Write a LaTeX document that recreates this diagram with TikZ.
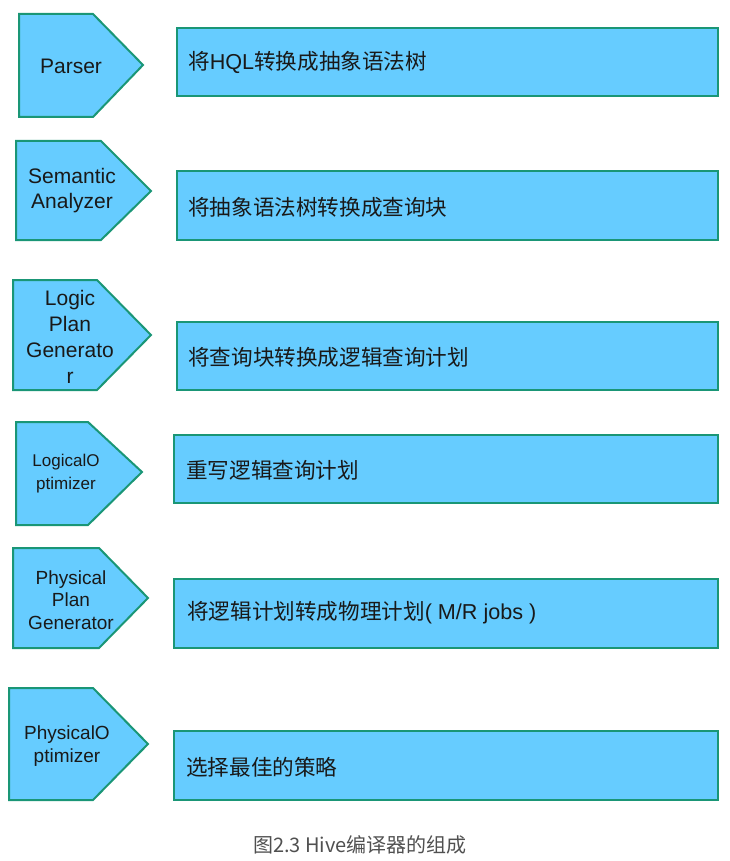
\documentclass[tikz,border=0pt]{standalone}
\usepackage{fontspec}
\setmainfont{Liberation Sans}
\newfontfamily\cjk{Noto Sans CJK SC}
\usepackage{tikz}
\usetikzlibrary{positioning}
\definecolor{stagefill}{RGB}{102,204,255}
\definecolor{stageline}{RGB}{26,150,118}
\definecolor{captiongray}{RGB}{80,80,80}
\newcommand{\zh}[1]{{\cjk #1}}
\tikzstyle{stage} = [draw=stageline, line width=2pt, fill=stagefill]
\tikzstyle{stagename} = [align=center, inner sep=0pt, text=black!90]
\tikzstyle{task} = [anchor=west, inner sep=0pt, text=black!90, font=\fontsize{21.6}{25}\selectfont]

\begin{document}
\begin{tikzpicture}[x=1pt, y=-1pt]
		\useasboundingbox (0,0) rectangle (729,861);
		
		% Parser
		\draw[stage] (19,14) -- (93,14) -- (143,65) -- (93,117) -- (19,117) -- cycle;
		\node[stagename, font=\fontsize{21}{25}\selectfont] (parser) at (71,66) {Parser};
		\draw[stage] (177,28) rectangle (718,96);
		\node[task] (parsertask) at (188,62) {\zh{将}HQL\zh{转换成抽象语法树}};
		
		% Semantic Analyzer
		\draw[stage] (16,141) -- (101,141) -- (151,191) -- (101,240) -- (16,240) -- cycle;
		\node[stagename, font=\fontsize{21}{25}\selectfont] (analyzer) at (72,191) {Semantic\\Analyzer};
		\draw[stage] (177,171) rectangle (718,240);
		\node[task] (analyzertask) at (188,207) {\zh{将抽象语法树转换成查询块}};
		
		% Logic Plan Generator
		\draw[stage] (13,280) -- (97,280) -- (151,335) -- (97,390) -- (13,390) -- cycle;
		\node[stagename, font=\fontsize{21}{26}\selectfont] (logicgen) at (70,337) {Logic\\Plan\\Generato\\r};
		\draw[stage] (177,322) rectangle (718,390);
		\node[task] (logicgentask) at (188,357) {\zh{将查询块转换成逻辑查询计划}};
		
		% Logical Optimizer
		\draw[stage] (16,422) -- (88,422) -- (142,472) -- (88,525) -- (16,525) -- cycle;
		\node[stagename, font=\fontsize{17}{23}\selectfont] (logicopt) at (66,474) {LogicalO\\ptimizer};
		\draw[stage] (174,435) rectangle (718,503);
		\node[task] (logicopttask) at (186,470) {\zh{重写逻辑查询计划}};
		
		% Physical Plan Generator
		\draw[stage] (13,548) -- (99,548) -- (148,598) -- (99,648) -- (13,648) -- cycle;
		\node[stagename, font=\fontsize{19}{22.5}\selectfont] (physgen) at (71,600) {Physical\\Plan\\Generator};
		\draw[stage] (174,579) rectangle (718,648);
		\node[task] (physgentask) at (187,613) {\zh{将逻辑计划转成物理计划}( M/R jobs )};
		
		% Physical Optimizer
		\draw[stage] (9,688) -- (93,688) -- (148,744) -- (93,800) -- (9,800) -- cycle;
		\node[stagename, font=\fontsize{19}{23}\selectfont] (physopt) at (67,746) {PhysicalO\\ptimizer};
		\draw[stage] (174,731) rectangle (718,800);
		\node[task] (physopttask) at (186,767) {\zh{选择最佳的策略}};
		
		\node[text=captiongray, font=\cjk\fontsize{20}{24}\selectfont] (caption) at (360,845) {图2.3 Hive编译器的组成};
	\end{tikzpicture}
\end{document}
